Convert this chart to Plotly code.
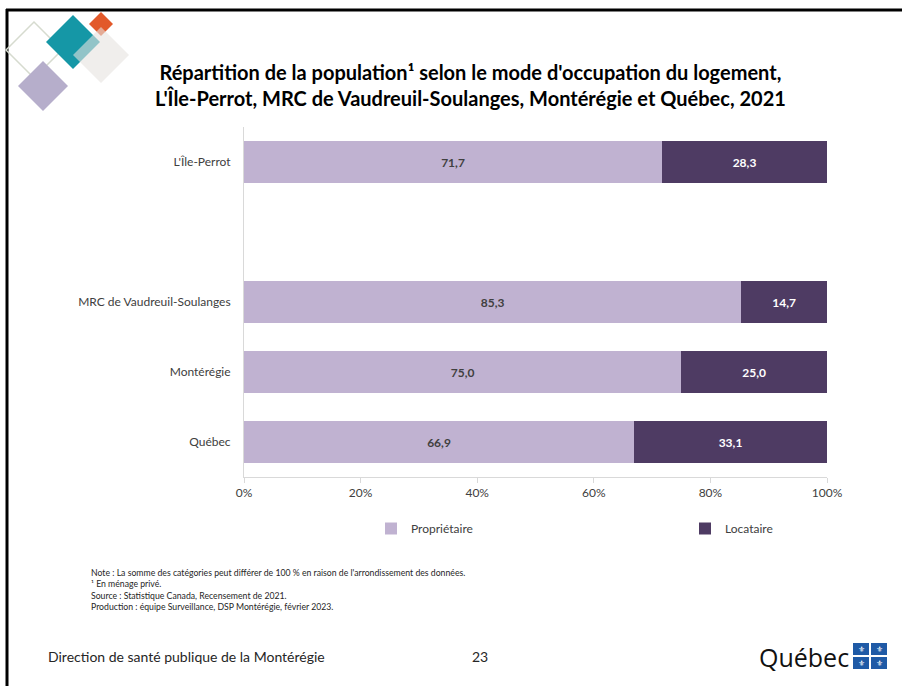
import plotly.graph_objects as go

categories = ["Québec", "Montérégie", "MRC de Vaudreuil-Soulanges", " ", "L'Île-Perrot"]
proprietaire = [66.9, 75.0, 85.3, None, 71.7]
locataire = [33.1, 25.0, 14.7, None, 28.3]
series_names = ["Propriétaire", "Locataire"]
x_ticks = [0, 20, 40, 60, 80, 100]
x_tick_labels = ["0%", "20%", "40%", "60%", "80%", "100%"]

W, H = 902, 686
L, R, T, B = 244, 827, 127, 477

def px(x):
    return (x - L) / (R - L)

def py(y):
    return (B - y) / (B - T)

FONT = "Lato"
fig = go.Figure()
fig.add_trace(go.Bar(
    y=categories, x=proprietaire, name=series_names[0], orientation="h",
    marker=dict(color="#C0B2D1", line=dict(width=0)),
    texttemplate="%{x:.1f}", textposition="inside", insidetextanchor="middle",
    textfont=dict(family=FONT, size=12, color="#404040", weight="bold"),
    width=0.59, hoverinfo="skip", legend="legend",
))
fig.add_trace(go.Bar(
    y=categories, x=locataire, name=series_names[1], orientation="h",
    marker=dict(color="#4E3B63", line=dict(width=0)),
    texttemplate="%{x:.1f}", textposition="inside", insidetextanchor="middle",
    textfont=dict(family=FONT, size=12, color="#FFFFFF", weight="bold"),
    width=0.59, hoverinfo="skip", legend="legend2",
))

shapes = []
shapes.append(dict(type="line", xref="paper", yref="paper", x0=px(6), x1=px(902), y0=py(10), y1=py(10),
                   line=dict(color="#000000", width=3)))
shapes.append(dict(type="line", xref="paper", yref="paper", x0=px(7), x1=px(7), y0=py(9), y1=py(686),
                   line=dict(color="#000000", width=3)))

def diamond(cx, cy, h, fill=None, line=None, opacity=1.0):
    path = f"M {px(cx-h)},{py(cy)} L {px(cx)},{py(cy-h)} L {px(cx+h)},{py(cy)} L {px(cx)},{py(cy+h)} Z"
    d = dict(type="path", xref="paper", yref="paper", path=path, opacity=opacity, layer="above")
    if fill:
        d["fillcolor"] = fill
        d["line"] = dict(width=0)
    else:
        d["line"] = dict(color=line, width=1.5)
    return d

shapes.append(diamond(34, 50, 28, line="#D6DBCF"))
shapes.append(diamond(43, 86, 25, fill="#B6AECB"))
shapes.append(diamond(73, 42, 27, fill="#1597A6"))
shapes.append(diamond(101, 24, 12, fill="#E2592A"))
shapes.append(diamond(101, 55, 28, fill="#E6E2DF", opacity=0.6))

flag_cells = [(853, 643), (871, 643), (853, 657), (871, 657)]
for (x0, y0) in flag_cells:
    shapes.append(dict(type="rect", xref="paper", yref="paper", x0=px(x0), x1=px(x0 + 16),
                       y0=py(y0), y1=py(y0 + 12), fillcolor="#1F5AA6", line=dict(width=0)))

annotations = []
annotations.append(dict(
    text="<b>Répartition de la population¹ selon le mode d'occupation du logement,<br>"
         "L'Île-Perrot, MRC de Vaudreuil-Soulanges, Montérégie et Québec, 2021</b>",
    xref="paper", yref="paper", x=px(470), y=py(85), xanchor="center", yanchor="middle",
    showarrow=False, align="center", font=dict(family=FONT, size=20, color="#000000")))
annotations.append(dict(
    text="Note : La somme des catégories peut différer de 100 % en raison de l'arrondissement des données.<br>"
         "¹ En ménage privé.<br>Source : Statistique Canada, Recensement de 2021.<br>"
         "Production : équipe Surveillance, DSP Montérégie, février 2023.",
    xref="paper", yref="paper", x=px(89), y=py(565), xanchor="left", yanchor="top",
    showarrow=False, align="left", font=dict(family=FONT, size=8.7, color="#262626")))
annotations.append(dict(
    text="Direction de santé publique de la Montérégie", xref="paper", yref="paper",
    x=px(46), y=py(656), xanchor="left", yanchor="middle", showarrow=False,
    font=dict(family=FONT, size=14, color="#262626")))
annotations.append(dict(
    text="23", xref="paper", yref="paper", x=px(480), y=py(656), xanchor="center", yanchor="middle",
    showarrow=False, font=dict(family=FONT, size=14, color="#262626")))
annotations.append(dict(
    text="Québec", xref="paper", yref="paper", x=px(851), y=py(657), xanchor="right", yanchor="middle",
    showarrow=False, font=dict(family="Open Sans", size=25, color="#111111", weight=500)))
for (x0, y0) in flag_cells:
    annotations.append(dict(text="⚜", xref="paper", yref="paper", x=px(x0 + 8), y=py(y0 + 6),
                            xanchor="center", yanchor="middle", showarrow=False,
                            font=dict(family="DejaVu Sans", size=8, color="#FFFFFF")))

leg_common = dict(orientation="h", yanchor="top", y=py(514), xanchor="left",
                  font=dict(family=FONT, size=12, color="#404040"), bgcolor="rgba(0,0,0,0)")
fig.update_layout(
    width=W, height=H, barmode="stack", bargap=0.41,
    margin=dict(l=L, r=W - R, t=T, b=H - B, pad=0),
    paper_bgcolor="#FFFFFF", plot_bgcolor="#FFFFFF",
    separators=", ",
    font=dict(family=FONT, size=12, color="#404040"),
    showlegend=True,
    legend=dict(x=px(371), **leg_common),
    legend2=dict(x=px(685), **leg_common),
    shapes=shapes, annotations=annotations,
    uniformtext=dict(mode="show", minsize=8),
)
fig.update_xaxes(range=[0, 100], tickvals=x_ticks, ticktext=x_tick_labels, showgrid=False, zeroline=False,
                 showline=True, linecolor="#D9D9D9", linewidth=1, ticks="outside", ticklen=5,
                 tickcolor="#D9D9D9", tickfont=dict(family=FONT, size=12, color="#404040"),
                 fixedrange=True)
fig.update_yaxes(categoryorder="array", categoryarray=categories, range=[-0.5, 4.5],
                 showgrid=False, zeroline=False, showline=True, linecolor="#D9D9D9", linewidth=1,
                 ticks="", ticklabelstandoff=10, tickfont=dict(family=FONT, size=12, color="#404040"),
                 fixedrange=True)

fig.write_html("out.html", config={"displayModeBar": False},
               post_script="document.body.style.margin='0';document.body.style.overflow='hidden';")
